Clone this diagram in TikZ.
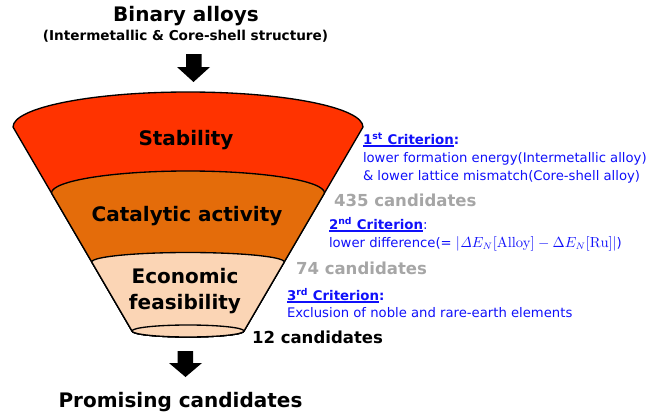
\documentclass[tikz,border=0pt]{standalone}
\usepackage[no-math]{fontspec}
\setmainfont{DejaVu Sans}
\definecolor{stabred}{RGB}{255,51,0}
\definecolor{catorange}{RGB}{228,108,10}
\definecolor{econpeach}{RGB}{251,213,181}
\definecolor{critblue}{RGB}{16,16,250}
\definecolor{countgray}{RGB}{166,166,166}
\newlength\critw
% bold heading with a thick underline
\newcommand{\ulhead}[1]{\settowidth{\critw}{#1}\rlap{\rule[-2pt]{\critw}{0.9pt}}#1}
\begin{document}
\begin{tikzpicture}[x=0.75pt,y=-0.75pt,
  txt/.style={inner sep=0pt, outer sep=0pt},
  layerlabel/.style={txt, anchor=base, font=\bfseries\fontsize{15}{18}\selectfont},
  headline/.style={txt, anchor=base, font=\bfseries\fontsize{15}{18}\selectfont},
  count/.style={txt, anchor=base west, font=\bfseries\fontsize{12.4}{15}\selectfont},
  crithead/.style={txt, anchor=base west, text=critblue, font=\bfseries\fontsize{10}{12}\selectfont},
  critbody/.style={txt, anchor=base west, text=critblue, font=\fontsize{9.9}{12}\selectfont},
  rim/.style={draw=black, line width=1pt, line join=round},
  blockarrow/.style={fill=black}
]
\useasboundingbox (0,0) rectangle (665,414);

% funnel body, drawn from the top layer down
\path[rim, fill=stabred]
  (13,127) arc[start angle=180, end angle=360, x radius=175, y radius=35]
  -- (244,331) arc[start angle=0, end angle=180, x radius=56, y radius=6] -- cycle;
\path[rim, fill=catorange]
  (51.5,193) arc[start angle=180, end angle=360, x radius=136.5, y radius=22]
  -- (244,331) arc[start angle=0, end angle=180, x radius=56, y radius=6] -- cycle;
\path[rim, fill=econpeach]
  (91.75,262) arc[start angle=180, end angle=360, x radius=96.25, y radius=9.5]
  -- (244,331) arc[start angle=0, end angle=180, x radius=56, y radius=6] -- cycle;
\path[rim, fill=econpeach] (188,331) ellipse[x radius=56, y radius=6];

% block arrows
\path[blockarrow] (186,54) -- (201.5,54) -- (201.5,67) -- (210,67) -- (193.5,82)
  -- (177,67) -- (186,67) -- cycle;
\path[blockarrow] (177.5,351) -- (193,351) -- (193,363) -- (202,363) -- (185.5,377)
  -- (169,363) -- (177.5,363) -- cycle;

% headings
\node[headline] (title) at (186,21.5) {Binary alloys};
\node[txt, anchor=base, font=\bfseries\fontsize{10.2}{12}\selectfont] (subtitle) at (185.5,40.5)
  {(Intermetallic \& Core-shell structure)};
\node[headline] (result) at (180.5,407) {Promising candidates};

% layer labels
\node[layerlabel] (stability) at (186,145) {Stability};
\node[layerlabel] (catalytic) at (187,221.5) {Catalytic activity};
\node[layerlabel] (economic) at (185,283) {Economic};
\node[layerlabel] (feasible) at (185,309) {feasibility};

% criteria
\node[crithead] (c1) at (363,144) {\ulhead{1\textsuperscript{st} Criterion}:};
\node[critbody] (c1a) at (363,162.5) {lower formation energy(Intermetallic alloy)};
\node[critbody] (c1b) at (363,180) {\& lower lattice mismatch(Core-shell alloy)};
\node[count, text=countgray] (n435) at (334,206) {435 candidates};

\node[crithead] (c2) at (329,229) {\ulhead{2\textsuperscript{nd} Criterion}\mdseries:};
\node[critbody] (c2a) at (329,247.7)
  {lower difference(= {\fontsize{10.6}{12}\selectfont$|\mathit{\Delta} E_N[\mathrm{Alloy}] - \Delta E_N[\mathrm{Ru}]|$})};
\node[count, text=countgray] (n74) at (296,274) {74 candidates};

\node[crithead] (c3) at (287,300) {\ulhead{3\textsuperscript{rd} Criterion}:};
\node[critbody] (c3a) at (287,317) {Exclusion of noble and rare-earth elements};
\node[count, text=black] (n12) at (252,343) {12 candidates};
\end{tikzpicture}
\end{document}
